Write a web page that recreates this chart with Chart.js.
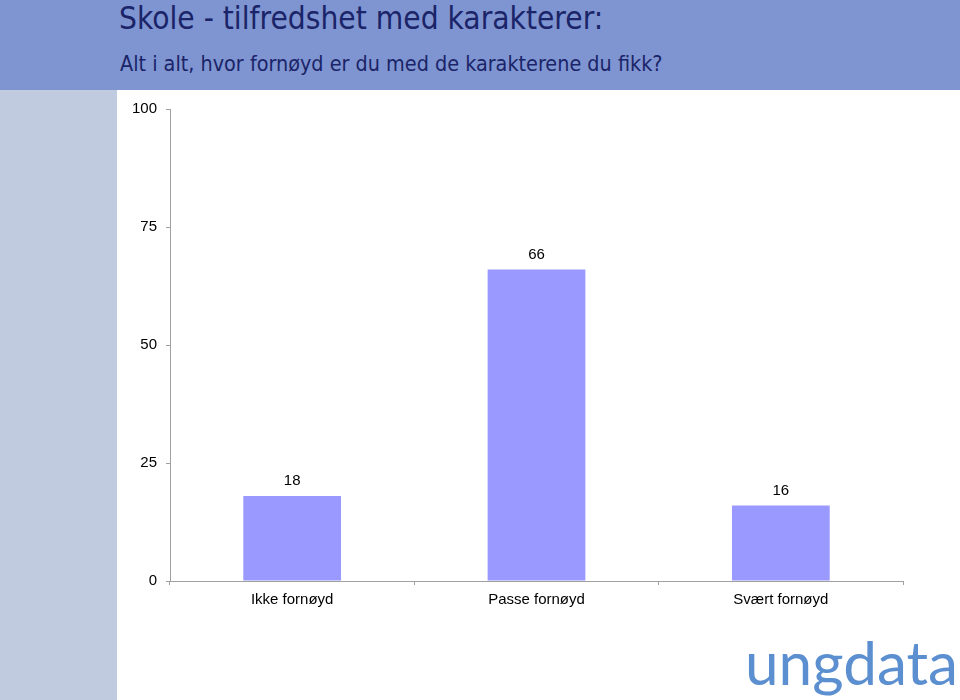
<!DOCTYPE html>
<html>
<head>
<meta charset="utf-8">
<script src="https://cdn.jsdelivr.net/npm/chart.js@4/dist/chart.umd.min.js"></script>
<style>
  html, body { margin: 0; padding: 0; }
  body { width: 960px; height: 700px; position: relative; overflow: hidden; background: #fff; }
  #header { position: absolute; left: 0; top: 0; width: 960px; height: 90px; background: #7f95d1; }
  #side { position: absolute; left: 0; top: 90px; width: 117px; height: 610px; background: #c1cbe0; }
  #title { position: absolute; left: 119px; top: 3px; line-height: 31px; font-family: "DejaVu Sans Condensed", "DejaVu Sans", sans-serif; font-size: 31.4px; color: #1b2468; white-space: nowrap; }
  #subtitle { position: absolute; left: 120px; top: 53px; line-height: 21px; font-family: "DejaVu Sans Condensed", "DejaVu Sans", sans-serif; font-size: 21.4px; color: #1b2468; white-space: nowrap; }
  #wrap { position: absolute; left: 117px; top: 90px; width: 843px; height: 610px; }
  #logo { position: absolute; left: 745px; top: 632px; line-height: 60px; font-family: Lato, sans-serif; font-weight: 400; font-size: 60px; color: #5b8fd0; white-space: nowrap; transform-origin: 0 0; }
</style>
</head>
<body>
<div id="header"></div>
<div id="side"></div>
<div id="title">Skole - tilfredshet med karakterer:</div>
<div id="subtitle">Alt i alt, hvor fornøyd er du med de karakterene du fikk?</div>
<div id="wrap"><canvas id="myChart"></canvas></div>
<div id="logo">ungdata</div>
<script>
const categories = ['Ikke fornøyd', 'Passe fornøyd', 'Svært fornøyd'];
const values = [18, 66, 16];
const yTicks = [0, 25, 50, 75, 100];

// logoen skal fylle ca 213px i bredden
const logo = document.getElementById('logo');
logo.style.transform = 'scaleX(' + (213 / logo.offsetWidth) + ')';

// skriver verdien over hver søyle
const barLabels = {
  id: 'barLabels',
  afterDatasetsDraw(chart) {
    const ctx = chart.ctx;
    const meta = chart.getDatasetMeta(0);
    ctx.save();
    ctx.font = '15px "Liberation Sans", Arial, sans-serif';
    ctx.fillStyle = '#000';
    ctx.textAlign = 'center';
    ctx.textBaseline = 'middle';
    meta.data.forEach((bar, i) => {
      ctx.fillText(values[i], bar.x, bar.y - 15);
    });
    ctx.restore();
  }
};

const ctx = document.getElementById('myChart');
const myChart = new Chart(ctx, {
  type: 'bar',
  data: {
    labels: categories,
    datasets: [
      {
        data: values,
        backgroundColor: '#9999ff',
        barPercentage: 0.4,
        categoryPercentage: 1,
      },
    ],
  },
  options: {
    responsive: true,
    maintainAspectRatio: false,
    animation: false,
    layout: { padding: { top: 19, right: 57, left: 0, bottom: 0 } },
    plugins: {
      legend: { display: false },
      tooltip: { enabled: false },
    },
    scales: {
      y: {
        min: 0,
        max: 100,
        afterFit(scale) { scale.width = 53; },
        afterBuildTicks(scale) { scale.ticks = yTicks.map(v => ({ value: v })); },
        border: { color: '#a0a0a0', width: 1 },
        grid: { drawOnChartArea: false, tickLength: 4, color: '#a0a0a0' },
        ticks: {
          padding: 9,
          color: '#000',
          font: { family: '"Liberation Sans", Arial, sans-serif', size: 15 },
        },
      },
      x: {
        afterFit(scale) { scale.height = 119; },
        border: { color: '#a0a0a0', width: 1 },
        grid: { drawOnChartArea: false, tickLength: 4, color: '#a0a0a0', offset: true },
        ticks: {
          padding: 6,
          color: '#000',
          font: { family: '"Liberation Sans", Arial, sans-serif', size: 15 },
        },
      },
    },
  },
  plugins: [barLabels],
});
</script>
</body>
</html>
